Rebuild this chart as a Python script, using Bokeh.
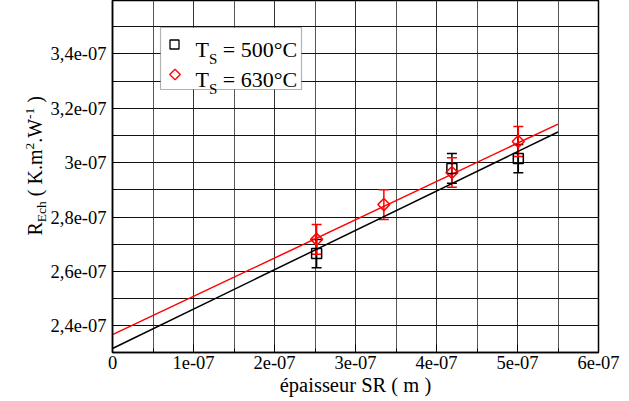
import numpy as np
from bokeh.plotting import figure
from bokeh.layouts import row
from bokeh.models import (Range1d, FixedTicker, Whisker, ColumnDataSource,
                          TeeHead, BoxAnnotation, Label)
from bokeh.embed import file_html
from bokeh.resources import INLINE

# ---------------- data ----------------
x_500 = [2.52e-7, 4.19e-7, 5.01e-7]
y_500 = [2.666e-7, 2.979e-7, 3.015e-7]
err_500 = [0.052e-7, 0.055e-7, 0.052e-7]

x_630 = [2.52e-7, 3.35e-7, 4.19e-7, 5.01e-7]
y_630 = [2.718e-7, 2.846e-7, 2.964e-7, 3.078e-7]
err_630 = [0.055e-7, 0.055e-7, 0.054e-7, 0.055e-7]

fit_x = [0.0, 5.5e-7]
fit_500 = [2.317e-7, 3.113e-7]
fit_630 = [2.368e-7, 3.142e-7]

x_ticks = [0.0, 1e-7, 2e-7, 3e-7, 4e-7, 5e-7, 6e-7]
x_tick_labels = ["0", "1e-07", "2e-07", "3e-07", "4e-07", "5e-07", "6e-07"]
x_minor = [0.5e-7, 1.5e-7, 2.5e-7, 3.5e-7, 4.5e-7, 5.5e-7]
y_ticks = [2.4e-7, 2.6e-7, 2.8e-7, 3.0e-7, 3.2e-7, 3.4e-7]
y_tick_labels = ["2,4e-07", "2,6e-07", "2,8e-07", "3e-07", "3,2e-07", "3,4e-07"]
y_minor = [2.3e-7, 2.5e-7, 2.7e-7, 2.9e-7, 3.1e-7, 3.3e-7, 3.5e-7]

legend_labels = ["= 500°C", "= 630°C"]
x_title = "épaisseur SR ( m )"
y_title_parts = ["R", "Ech", "(", "K.m", "2", ".W", "-1", ")"]

# ---------------- layout helpers (reference page pixels -> data) ----------------
X0_PX, PX_PER_X = 109.0, 81.0 / 1e-7
Y_REF_PX, Y_REF, PX_PER_Y = 271.0, 2.6e-7, 27.2 / 1e-8


def dx(px):
    return (px - X0_PX) / PX_PER_X


def dy(py):
    return Y_REF + (Y_REF_PX - py) / PX_PER_Y


FONT = "Liberation Serif"
W = {'R': .667, 'E': .611, 'c': .444, 'h': .5, ' ': .25, '(': .333, ')': .333, 'K': .722,
     '.': .25, 'm': .778, '2': .5, 'W': .944, '-': .333, '1': .5, 'T': .611, 'S': .556,
     '=': .564, '5': .5, '0': .5, '6': .5, '3': .5, '°': .4, 'C': .667}


def tw(s, size):
    return sum(W.get(ch, .5) for ch in s) * size


TITLE_W = 47
FRAME_H = 352
BOTTOM = 49

fig = figure(frame_width=486, frame_height=FRAME_H,
             x_range=Range1d(0, 6e-7), y_range=Range1d(dy(352), dy(0)),
             output_backend="svg", toolbar_location=None,
             min_border_left=109 - TITLE_W, min_border_right=34,
             min_border_top=0, min_border_bottom=BOTTOM)
fig.outline_line_color = "black"
fig.outline_line_width = 1.5
fig.background_fill_color = "white"

# axes
xt = FixedTicker(ticks=x_ticks, minor_ticks=x_minor)
yt = FixedTicker(ticks=y_ticks, minor_ticks=y_minor)
fig.xaxis.ticker = xt
fig.yaxis.ticker = yt
fig.xaxis.major_label_overrides = dict(zip(x_ticks, x_tick_labels))
fig.yaxis.major_label_overrides = dict(zip(y_ticks, y_tick_labels))
for ax in (fig.xaxis, fig.yaxis):
    ax.axis_line_color = "black"
    ax.axis_line_width = 1.5
    ax.major_tick_out = 0
    ax.major_tick_in = 8
    ax.minor_tick_out = 0
    ax.minor_tick_in = 4
    ax.major_tick_line_color = "black"
    ax.minor_tick_line_color = "black"
    ax.major_label_text_font = FONT
    ax.major_label_text_font_size = "18.5px"
    ax.major_label_text_color = "black"
fig.xaxis.major_label_standoff = 3
fig.yaxis.major_label_standoff = 6
fig.xaxis.axis_label = x_title
fig.xaxis.axis_label_text_font = FONT
fig.xaxis.axis_label_text_font_size = "20.5px"
fig.xaxis.axis_label_text_font_style = "normal"
fig.xaxis.axis_label_text_color = "black"
fig.xaxis.axis_label_standoff = 2

# grids
fig.xgrid.ticker = xt
fig.ygrid.ticker = yt
fig.xgrid.grid_line_color = "#333333"
fig.xgrid.minor_grid_line_color = "#555555"
fig.ygrid.grid_line_color = "#111111"
fig.ygrid.minor_grid_line_color = "#111111"
for g in (fig.xgrid, fig.ygrid):
    g.grid_line_width = 1
    g.minor_grid_line_width = 1
    g.grid_line_alpha = 1
    g.minor_grid_line_alpha = 1

# fit lines
fig.line(fit_x, fit_500, line_color="black", line_width=1.5)
fig.line(fit_x, fit_630, line_color="red", line_width=1.5)

# error bars
src5 = ColumnDataSource(dict(x=x_500, upper=[a + b for a, b in zip(y_500, err_500)],
                             lower=[a - b for a, b in zip(y_500, err_500)]))
src6 = ColumnDataSource(dict(x=x_630, upper=[a + b for a, b in zip(y_630, err_630)],
                             lower=[a - b for a, b in zip(y_630, err_630)]))
for src, col in ((src5, "black"), (src6, "red")):
    fig.add_layout(Whisker(source=src, base="x", upper="upper", lower="lower",
                           line_color=col, line_width=1.5,
                           upper_head=TeeHead(size=10, line_color=col, line_width=1.5),
                           lower_head=TeeHead(size=10, line_color=col, line_width=1.5)))

# markers
r5 = fig.scatter(x_500, y_500, marker="square", size=10, fill_color=None,
                 line_color="black", line_width=1.5)
r6 = fig.scatter(x_630, y_630, marker="square", angle=np.pi / 4, size=8.5, fill_color=None,
                 line_color="red", line_width=1.5)
r5.level = "overlay"
r6.level = "overlay"

# custom legend (T with subscript S)
fig.add_layout(BoxAnnotation(left=dx(157), right=dx(298), top=dy(27), bottom=dy(89),
                             fill_color="white", fill_alpha=1, line_color="black",
                             line_width=1.2, level="annotation"))
lg5 = fig.scatter([dx(171)], [dy(44)], marker="square", size=9, fill_color=None,
                  line_color="black", line_width=1.3)
lg6 = fig.scatter([dx(171.5)], [dy(74)], marker="square", angle=np.pi / 4, size=7.5,
                  fill_color=None, line_color="red", line_width=1.3)
lg5.level = "overlay"
lg6.level = "overlay"

LEG_MAIN, LEG_SUB = 22, 15
for lab, base in zip(legend_labels, [49, 79]):
    xpos = 192.0
    for txt, size, off, gap in [("T", LEG_MAIN, 0, 0), ("S", LEG_SUB, 9.7, 0),
                                (lab, LEG_MAIN, 0, 0.25 * LEG_MAIN)]:
        xpos += gap
        fig.add_layout(Label(x=dx(xpos), y=dy(base + off), text=txt, text_font=FONT,
                             text_font_size=f"{size}px", text_color="black",
                             text_align="left", text_baseline="alphabetic", level="overlay"))
        xpos += tw(txt, size)

# y axis title in its own narrow panel: R_Ech ( K.m^2.W^-1 ), rotated
tfig = figure(frame_width=TITLE_W, frame_height=FRAME_H,
              x_range=Range1d(0, TITLE_W), y_range=Range1d(FRAME_H, 0),
              output_backend="svg", toolbar_location=None,
              min_border_left=0, min_border_right=0, min_border_top=0,
              min_border_bottom=BOTTOM, x_axis_type=None, y_axis_type=None)
tfig.outline_line_color = None
tfig.grid.visible = False

Y_MAIN, Y_SMALL = 20, 13.5
B_MAIN, B_SUB, B_SUP = 34.5, 40.5, 29.5
styles = [(Y_MAIN, B_MAIN, 0), (Y_SMALL, B_SUB, 0), (Y_MAIN, B_MAIN, 1), (Y_MAIN, B_MAIN, 1),
          (Y_SMALL, B_SUP, 0), (Y_MAIN, B_MAIN, 0), (Y_SMALL, B_SUP, 0), (Y_MAIN, B_MAIN, 1)]
ypos = 235.0
for txt, (size, bx, space) in zip(y_title_parts, styles):
    ypos -= space * 0.25 * size
    tfig.add_layout(Label(x=bx, y=ypos, text=txt, text_font=FONT,
                          text_font_size=f"{size}px", text_color="black", angle=np.pi / 2,
                          text_align="left", text_baseline="alphabetic"))
    ypos -= tw(txt, size)

p = row(tfig, fig)
open("out.html", "w").write(file_html(p, INLINE))
